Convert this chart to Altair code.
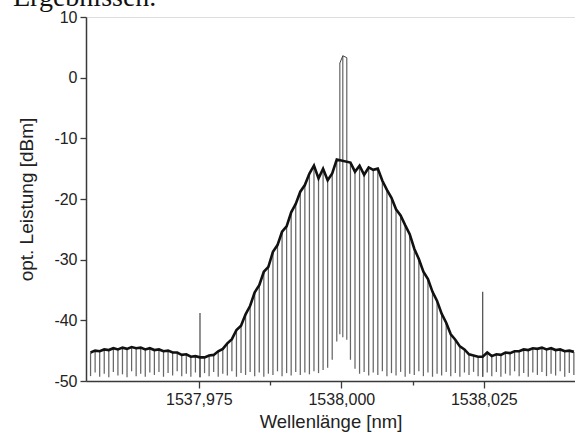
import altair as alt
import pandas as pd

BASE_NM = 1538.0

# comb line positions, offset from 1538 nm in pm
comb_pm = [
    -44.0, -43.2, -42.4, -41.6, -40.8, -40.0, -39.2, -38.4, -37.6, -36.8,
    -36.0, -35.2, -34.4, -33.6, -32.8, -32.0, -31.2, -30.4, -29.6, -28.8,
    -28.0, -27.2, -26.4, -25.6, -24.8, -24.0, -23.2, -22.4, -21.6, -20.8,
    -20.0, -19.2, -18.4, -17.6, -16.8, -16.0, -15.2, -14.4, -13.6, -12.8,
    -12.0, -11.2, -10.4, -9.6, -8.8, -8.0, -7.2, -6.4, -5.6, -4.8,
    -4.0, -3.2, -2.4, -1.6, -0.8,
    1.6, 2.4, 3.2, 4.0, 4.8, 5.6, 6.4, 7.2, 8.0, 8.8,
    9.6, 10.4, 11.2, 12.0, 12.8, 13.6, 14.4, 15.2, 16.0, 16.8,
    17.6, 18.4, 19.2, 20.0, 20.8, 21.6, 22.4, 23.2, 24.0, 24.8,
    25.6, 26.4, 27.2, 28.0, 28.8, 29.6, 30.4, 31.2, 32.0, 32.8,
    33.6, 34.4, 35.2, 36.0, 36.8, 37.6, 38.4, 39.2, 40.0, 40.8,
]
comb_top_db = [
    -45.3, -45.0, -45.1, -44.8, -44.9, -44.6, -44.8, -44.5, -44.7, -44.4,
    -44.6, -44.5, -44.8, -44.6, -44.9, -44.8, -45.1, -45.0, -45.3, -45.3,
    -45.7, -45.6, -46.0, -45.9, -46.1, -46.1, -45.8, -45.7, -45.1, -44.7,
    -43.8, -43.1, -41.6, -40.9, -39.0, -37.6, -35.4, -34.2, -32.0, -31.2,
    -28.7, -27.6, -25.4, -24.5, -22.2, -20.8, -18.8, -17.7, -15.8, -14.5,
    -16.6, -15.0, -16.9, -15.8, -13.5,
    -14.0, -15.5, -14.5, -16.0, -14.8, -15.2, -15.0, -17.0, -18.5, -19.8,
    -21.7, -22.7, -24.3, -25.8, -28.2, -29.9, -32.0, -33.2, -35.3, -36.8,
    -38.9, -40.4, -42.3, -43.2, -44.3, -44.8, -45.6, -45.8, -46.0, -46.0,
    -45.3, -45.9, -45.6, -45.7, -45.3, -45.4, -45.1, -45.1, -44.8, -44.9,
    -44.6, -44.7, -44.5, -44.8, -44.6, -44.9, -44.8, -45.1, -45.0, -45.2,
]
comb_floor_db = [
    -49.2, -48.6, -49.3, -48.8, -49.4, -48.5, -49.1, -48.9, -49.4, -48.4,
    -49.2, -48.8, -49.3, -48.6, -49.0, -48.5, -49.3, -48.7, -49.1, -48.4,
    -49.2, -48.8, -49.3, -48.6, -49.4, -48.7, -49.2, -48.5, -49.3, -48.8,
    -49.1, -48.4, -49.3, -48.7, -49.0, -48.5, -49.2, -48.6, -49.3, -48.8,
    -49.0, -48.4, -49.2, -48.7, -49.1, -48.5, -49.0, -48.6, -48.9, -48.4,
    -48.7, -48.2, -47.8, -46.5, -43.5,
    -46.5, -48.0, -48.8, -48.5, -49.1, -48.6, -49.0, -48.4, -49.2, -48.7,
    -49.1, -48.5, -49.3, -48.8, -49.0, -48.4, -49.2, -48.6, -49.3, -48.8,
    -49.1, -48.5, -49.2, -48.7, -49.3, -48.6, -49.0, -48.5, -49.2, -49.3,
    -48.6, -49.2, -48.5, -49.3, -48.8, -49.1, -48.4, -49.2, -48.7, -49.3,
    -48.6, -49.0, -48.5, -49.2, -48.8, -49.1, -48.4, -49.3, -48.7, -49.0,
]

# two isolated spurs near 1537.975 and 1538.025 nm
spur_pm = [-24.8, 24.8]
spur_top_db = [-38.8, -35.3]
spur_floor_db = [-49.4, -49.3]

# central carrier lines
carrier_pm = [-0.26, 0.26, 0.96]
carrier_top_db = [2.4, 3.6, 3.3]
carrier_floor_db = [-42.3, -42.8, -43.2]

x_ticks = [1537.975, 1537.9875, 1538.000, 1538.0125, 1538.025]
x_major_txt = "['1537.975','1538.000','1538.025']"
y_ticks = [-50, -45, -40, -35, -30, -25, -20, -15, -10, -5, 0, 5, 10]


def frame(pm, top, floor):
    return pd.DataFrame({
        "nm": [BASE_NM + p / 1000.0 for p in pm],
        "top": top,
        "floor": floor,
    })


comb = frame(comb_pm, comb_top_db, comb_floor_db)
spur = frame(spur_pm, spur_top_db, spur_floor_db)
carr = frame(carrier_pm, carrier_top_db, carrier_floor_db)

FONT = "Liberation Sans"
AX = "#3a3a3a"

xs = alt.Scale(domain=[1537.9552, 1538.041], nice=False, zero=False)
ys = alt.Scale(domain=[-50, 10], nice=False, zero=False)

major_test = "indexof(" + x_major_txt + ", format(datum.value, '.3f')) >= 0"

xaxis = alt.Axis(
    values=x_ticks,
    labelExpr=major_test + " ? replace(format(datum.value, '.3f'), '.', ',') : ''",
    tickSize={"condition": {"test": major_test, "value": 7}, "value": 4},
    grid=False, domainColor=AX, domainWidth=1.5, tickColor=AX, tickWidth=1.3,
    labelFont=FONT, labelFontSize=16, labelColor="#222", labelPadding=3,
    labelOverlap=False,
    titleFont=FONT, titleFontSize=18.5, titleFontWeight="normal", titleColor="#222",
    titlePadding=5,
)
yaxis = alt.Axis(
    values=y_ticks,
    labelExpr="datum.value % 10 == 0 ? toString(datum.value) : ''",
    tickSize={"condition": {"test": "datum.value % 10 == 0", "value": 6}, "value": 4},
    grid=False, domainColor=AX, domainWidth=1.5, tickColor=AX, tickWidth=1.3,
    labelFont=FONT, labelFontSize=16, labelColor="#222", labelPadding=3,
    labelOverlap=False,
    titleFont=FONT, titleFontSize=19, titleFontWeight="normal", titleColor="#222",
    titlePadding=17,
)

rules = alt.Chart(comb).mark_rule(color="#666", strokeWidth=1.25).encode(
    x=alt.X("nm:Q", scale=xs, axis=xaxis, title="Wellenlänge [nm]"),
    y=alt.Y("floor:Q", scale=ys, axis=yaxis, title="opt. Leistung [dBm]"),
    y2="top:Q",
)
spur_rules = alt.Chart(spur).mark_rule(color="#555", strokeWidth=1.3).encode(
    x="nm:Q", y="floor:Q", y2="top:Q",
)
carr_rules = alt.Chart(carr).mark_rule(color="#555", strokeWidth=1.1).encode(
    x="nm:Q", y="floor:Q", y2="top:Q",
)
env = alt.Chart(comb).mark_line(color="#111", strokeWidth=2.6).encode(
    x="nm:Q", y="top:Q", order="nm:Q",
)
carr_top = alt.Chart(carr).mark_line(color="#444", strokeWidth=1).encode(
    x="nm:Q", y="top:Q", order="nm:Q",
)
header = alt.Chart(pd.DataFrame({"t": ["Ergebnissen."]})).mark_text(
    font="Liberation Serif", fontSize=28, align="left", baseline="alphabetic",
    color="#111",
).encode(x=alt.value(-73), y=alt.value(-11), text="t:N")

chart = alt.layer(rules, spur_rules, carr_rules, env, carr_top, header).properties(
    width=489, height=364,
    padding={"left": 86, "top": 17, "right": 0, "bottom": 53},
    autosize=alt.AutoSizeParams(type="none"),
).configure_view(stroke=None).configure(background="white")

chart.save("out.html", embed_options={"renderer": "svg", "actions": False})
